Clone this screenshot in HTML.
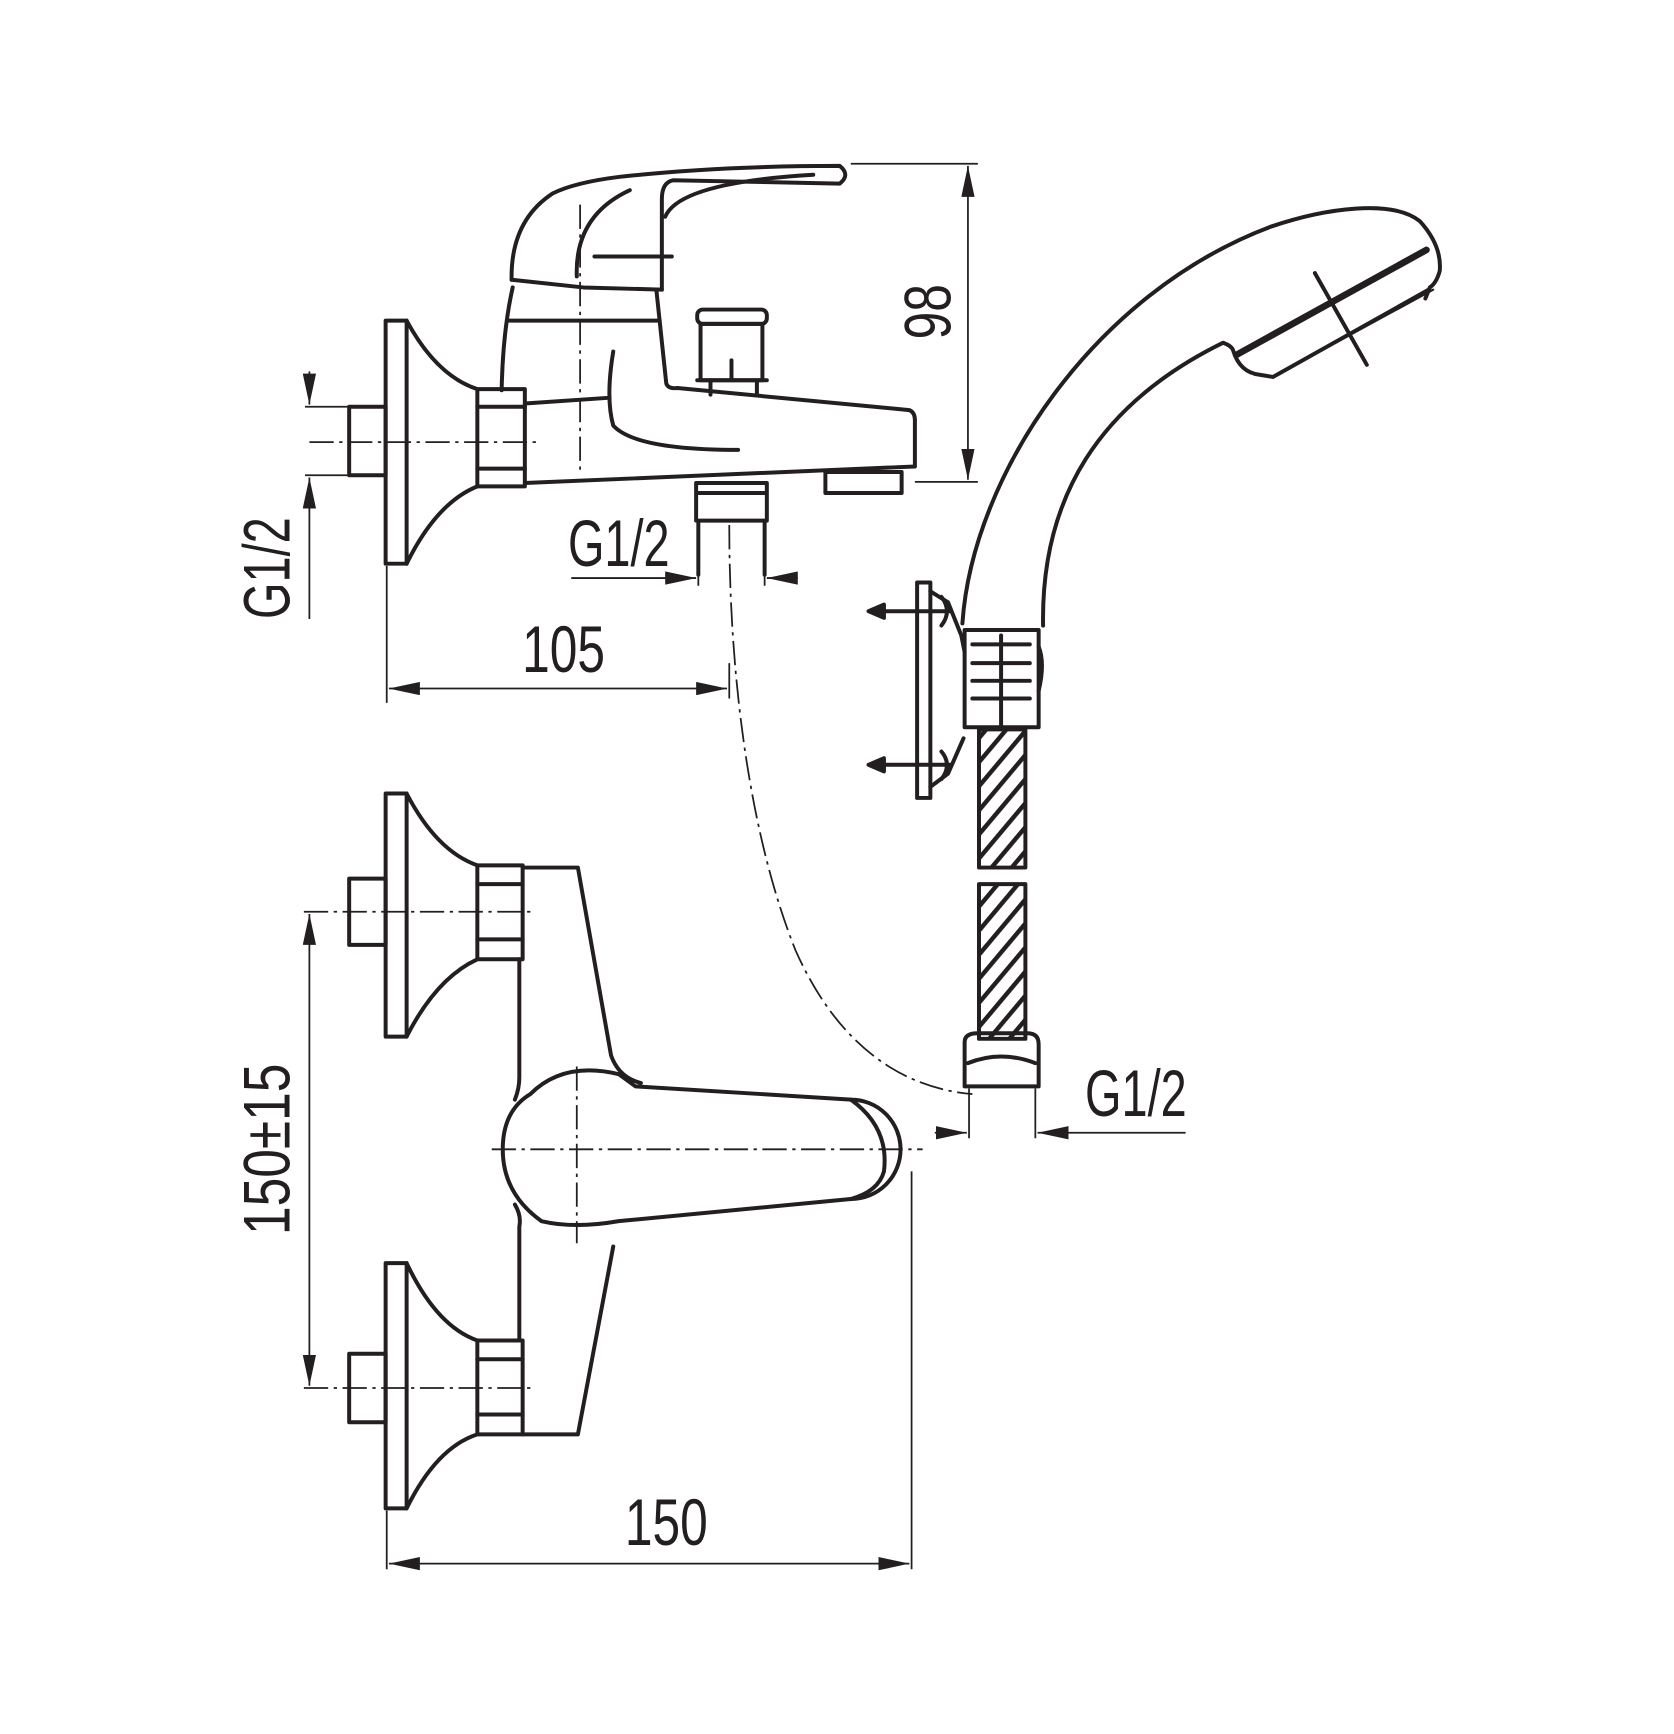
<!DOCTYPE html>
<html><head><meta charset="utf-8"><style>html,body{margin:0;padding:0;background:#fff}svg{display:block}</style></head>
<body>
<svg width="1674" height="1734" viewBox="0 0 1515 1569" xmlns="http://www.w3.org/2000/svg">
<defs>
<marker id="a" viewBox="0 0 28 12" refX="28" refY="6" markerWidth="28" markerHeight="12" markerUnits="userSpaceOnUse" orient="auto-start-reverse"><path d="M0,0 L28,6 L0,12 Z" fill="#231f20"/></marker>
<pattern id="h" width="14" height="14" patternUnits="userSpaceOnUse" patternTransform="rotate(40)"><rect width="14" height="14" fill="#fff"/><rect width="4" height="14" fill="#231f20"/></pattern>
</defs>
<g fill="none" stroke="#231f20" stroke-width="3.6" stroke-linejoin="round" stroke-linecap="round">
<!-- TOP FAUCET -->
<rect x="349" y="290" width="19" height="220"/>
<path d="M368,290 Q395,340 432,352 M432,440 Q395,455 368,510"/>
<rect x="316" y="368" width="33" height="62"/>
<rect x="432" y="352" width="43" height="88"/>
<path d="M432,368 H475 M432,424 H475"/>
<path d="M463,253 Q462,200 500,175 Q520,165 560,160 Q650,150 760,150 Q770,158 760,166 L609,163 Q599,165 599,180 L599,262"/>
<path d="M463,253 L528,260 L599,262"/>
<path d="M522,250 Q520,195 570,172"/>
<path d="M602,196 Q615,165 736,158"/>
<path d="M538,232 H608"/>
<path d="M464,260 Q455,300 454,353"/>
<path d="M594,262 L603,347 Q605,352 613,351 L823,371 Q828,373 828,380 L828,422 L475,437"/>
<path d="M461,290 H597"/>
<path d="M475,365 Q520,362 549,360"/>
<path d="M555,318 Q548,360 555,385 Q575,407 668,407"/>
<rect x="631" y="280" width="63" height="13" rx="5"/>
<rect x="634" y="293" width="56" height="51"/>
<path d="M662,326 V344 M631,344 H694 M643,344 V357 M685,344 V357"/>
<path d="M630,437 H694 V471 H630 Z M630,446 H694 M632,471 V520 M692,471 V520"/>
<rect x="747" y="427" width="69" height="19"/>
<!-- BOTTOM FAUCET -->
<rect x="349" y="718" width="19" height="220"/>
<path d="M368,718 Q395,770 432,783 M432,868 Q395,885 368,938"/>
<rect x="316" y="795" width="33" height="60"/>
<rect x="432" y="783" width="41" height="85"/>
<path d="M432,800 H473 M432,850 H473"/>
<rect x="349" y="1143" width="19" height="222"/>
<path d="M368,1143 Q395,1200 432,1213 M432,1298 Q395,1310 368,1365"/>
<rect x="316" y="1225" width="33" height="62"/>
<rect x="432" y="1213" width="41" height="85"/>
<path d="M432,1230 H473 M432,1280 H473"/>
<path d="M473,785 H523 L553,955 Q560,975 580,980"/>
<path d="M470,868 V975 Q470,985 466,995 M466,1090 Q472,1100 470,1110 V1213"/>
<path d="M473,1298 H523 L555,1128"/>
<path d="M480,990 Q510,960 560,972 L575,983 L770,995 A42,42 0 1 1 770,1085 L560,1105 Q520,1112 490,1105 Q455,1080 455,1040 Q455,1005 480,990 Z"/>
<path d="M770,995 Q805,1020 800,1060 Q795,1078 770,1085"/>
<!-- SHOWER -->
<path d="M871,564 C880,430 990,265 1150,205 C1200,188 1260,180 1285,200 Q1305,222 1303,245 Q1300,256 1294,260 L1290,270"/>
<path d="M944,566 C942,450 995,365 1107,310 Q1115,313 1116,317 Q1122,337 1140,339 L1152,341 L1293,262"/>
<path d="M1119,321 L1291,226" stroke-width="6"/>
<path d="M1190,247 L1237,330"/>
<path d="M1152,341 L1297,262" stroke-width="2"/>
<rect x="873" y="570" width="67" height="88"/>
<path d="M880,583 H932 M880,600 H932 M880,616 H932 M880,632 H932 M906,575 V660"/>
<path d="M940,585 Q946,600 940,625"/>
<rect x="886" y="660" width="42" height="125" fill="url(#h)"/>
<rect x="886" y="800" width="42" height="140" fill="url(#h)"/>
<path d="M873,943 Q873,935 885,935 H930 Q940,935 940,945 V983 H873 Z M876,962 Q906,950 937,962"/>
<rect x="830" y="527" width="12" height="195"/>
<path d="M842,535 L858,545 L870,575 L873,590 M842,712 L858,700 L872,668"/>
<path d="M790,553 H860 M790,692 H860"/>
<path d="M786,553 L800,547 V559 Z M786,692 L800,686 V698 Z" fill="#231f20"/>
<path d="M852,540 Q862,553 852,566 M852,680 Q862,692 852,705"/>
</g>
<g fill="none" stroke="#231f20" stroke-width="1.6">
<path d="M280,400 H485 M525,185 V430 M275,825 H485 M275,1256 H485 M445,1040 H835 M522,965 V1125" stroke-dasharray="22,5,3,5"/>
<path d="M660,475 C660,620 680,760 720,860 C760,950 820,985 880,990" stroke-dasharray="22,5,3,5"/>
<path d="M770,148 H885 M828,436 H885"/>
<path d="M876,150 V434" marker-start="url(#a)" marker-end="url(#a)"/>
<path d="M280,336 V366" marker-end="url(#a)"/>
<path d="M280,560 V432" marker-end="url(#a)"/>
<path d="M276,368 H316 M276,430 H316"/>
<path d="M517,523 H630" marker-end="url(#a)"/>
<path d="M722,523 H694" marker-end="url(#a)"/>
<path d="M632,471 V530 M692,471 V530"/>
<path d="M350,512 V636 M660,600 V632"/>
<path d="M352,623 H658" marker-start="url(#a)" marker-end="url(#a)"/>
<path d="M280,827 V1254" marker-start="url(#a)" marker-end="url(#a)"/>
<path d="M350,1367 V1420 M825,1060 V1420"/>
<path d="M352,1415 H823" marker-start="url(#a)" marker-end="url(#a)"/>
<path d="M877,985 V1030 M937,985 V1030"/>
<path d="M846,1025 H875" marker-end="url(#a)"/>
<path d="M1073,1025 H939" marker-end="url(#a)"/>
</g>
<g font-family="'Liberation Sans Narrow','Liberation Sans',sans-serif" font-size="60" fill="#231f20">
<text x="510" y="608" text-anchor="middle" textLength="75" lengthAdjust="spacingAndGlyphs">105</text>
<text x="603" y="1398" text-anchor="middle" textLength="75" lengthAdjust="spacingAndGlyphs">150</text>
<text x="560" y="512" text-anchor="middle" textLength="92" lengthAdjust="spacingAndGlyphs">G1/2</text>
<text x="1028" y="1010" text-anchor="middle" textLength="92" lengthAdjust="spacingAndGlyphs">G1/2</text>
<text transform="translate(262,560) rotate(-90)" textLength="92" lengthAdjust="spacingAndGlyphs">G1/2</text>
<text transform="translate(262,1040) rotate(-90)" text-anchor="middle" textLength="155" lengthAdjust="spacingAndGlyphs">150±15</text>
<text transform="translate(860,282) rotate(-90)" text-anchor="middle" textLength="50" lengthAdjust="spacingAndGlyphs">98</text>
</g>
</svg>
</body></html>
